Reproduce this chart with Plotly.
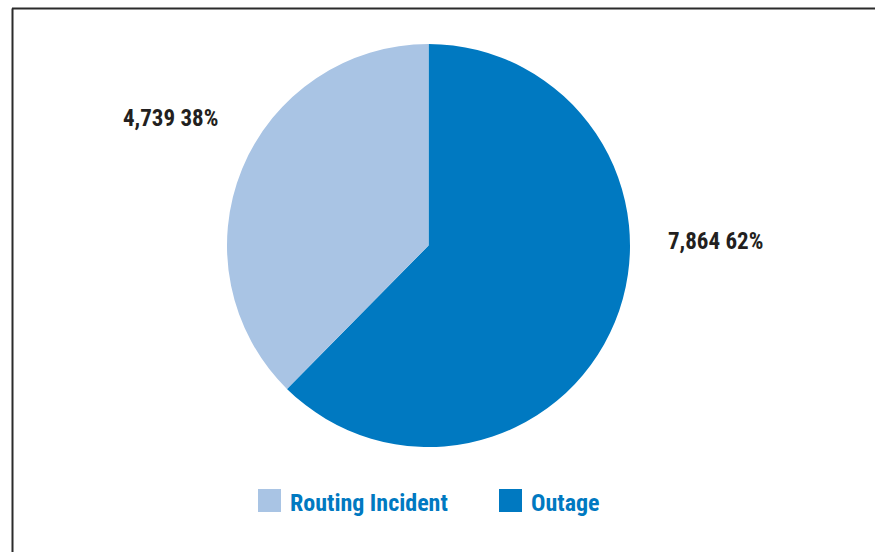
import plotly.graph_objects as go

categories = ["Outage", "Routing Incident"]
values = [7864, 4739]
colors = ["#0079C1", "#A9C4E4"]
legend_order = ["Routing Incident", "Outage"]

W, H = 875, 552
FONT = "Roboto Condensed, Liberation Sans Narrow, sans-serif"

total = sum(values)
pcts = [round(v / total * 100) for v in values]

fig = go.Figure(go.Pie(
    labels=categories,
    values=values,
    sort=False,
    direction="clockwise",
    rotation=0,
    marker=dict(colors=colors, line=dict(width=0)),
    textinfo="none",
    hoverinfo="label+value+percent",
    showlegend=False,
    domain=dict(x=[227 / W, 630 / W], y=[1 - 447 / H, 1 - 44 / H]),
))

# value labels
label_pos = {"Outage": (715, 242), "Routing Incident": (170.5, 118)}
for c, v, p in zip(categories, values, pcts):
    x, y = label_pos[c]
    fig.add_annotation(
        x=x / W, y=1 - y / H, xref="paper", yref="paper",
        text=f"<b>{v:,} {p}%</b>", showarrow=False,
        font=dict(family=FONT, size=23, color="#231F20"),
        xanchor="center", yanchor="middle",
    )

# legend
leg_x = {"Routing Incident": 258, "Outage": 499}
for name in legend_order:
    col = colors[categories.index(name)]
    x0 = leg_x[name]
    fig.add_shape(type="rect", xref="paper", yref="paper",
                  x0=x0 / W, x1=(x0 + 23) / W, y0=1 - 512 / H, y1=1 - 489 / H,
                  fillcolor=col, line=dict(width=0))
    fig.add_annotation(
        x=(x0 + 30) / W, y=1 - 503 / H, xref="paper", yref="paper",
        text=f"<b>{name}</b>", showarrow=False,
        font=dict(family=FONT, size=24, color="#0079C1"),
        xanchor="left", yanchor="middle",
    )

# frame
fig.add_shape(type="line", xref="paper", yref="paper",
              x0=12 / W, x1=1.01, y0=1 - 8.5 / H, y1=1 - 8.5 / H,
              line=dict(color="#2b2b2b", width=2))
fig.add_shape(type="line", xref="paper", yref="paper",
              x0=12.5 / W, x1=12.5 / W, y0=1 - 8.5 / H, y1=-0.01,
              line=dict(color="#2b2b2b", width=2))

fig.update_layout(
    width=W, height=H,
    margin=dict(l=0, r=0, t=0, b=0),
    paper_bgcolor="white",
    plot_bgcolor="white",
)

fig.write_html("out.html", config={"displayModeBar": False},
               post_script="document.body.style.margin='0';")
